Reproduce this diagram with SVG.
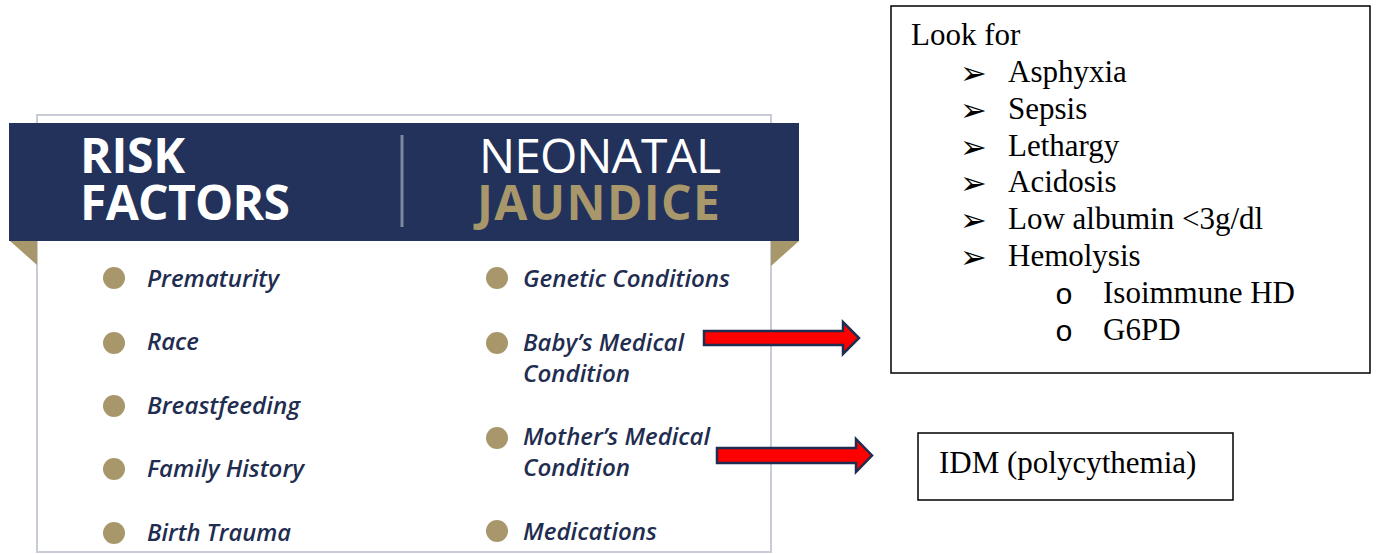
<svg xmlns="http://www.w3.org/2000/svg" width="1377" height="554" viewBox="0 0 1377 554">
<style>
.hd{font-family:"Open Sans","Liberation Sans",sans-serif;font-size:48px;fill:#ffffff}
.b{font-weight:700}
.gold{fill:#a8976b}
.it{font-family:"Open Sans","Liberation Sans",sans-serif;font-size:23px;font-style:italic;font-weight:600;fill:#1f2d50}
.dot{fill:#a8976b}
.tm{font-family:"Liberation Serif","Times New Roman",serif;font-size:31px;fill:#000}
.bul{font-family:"DejaVu Sans",sans-serif;font-size:32px;fill:#000}
.sub{font-family:"Liberation Mono","Courier New",monospace;font-size:30px;fill:#000}
.box{fill:#fff;stroke:#000;stroke-width:1.5}
.arr{fill:#ff0000;stroke:#1f2d50;stroke-width:2.5;stroke-linejoin:miter}
</style>
<rect width="1377" height="554" fill="#ffffff"/>

<g id="infographic">
  <rect x="37" y="115" width="734" height="437" fill="#ffffff" stroke="#c8ccd6" stroke-width="2"/>
  <polygon points="10,241 37,241 37,265" fill="#a8976b"/>
  <polygon points="771,241 799,241 771,266" fill="#a8976b"/>
  <rect x="9" y="123" width="790" height="118" fill="#22325a"/>
  <line x1="402" y1="135" x2="402" y2="227" stroke="#7d879f" stroke-width="3"/>
  <text class="hd b" x="80" y="173" textLength="105">RISK</text>
  <text class="hd b" x="80" y="220" textLength="210">FACTORS</text>
  <text class="hd" x="479" y="173" textLength="242">NEONATAL</text>
  <text class="hd b gold" x="477" y="220" textLength="243">JAUNDICE</text>
</g>

<g id="left-list">
  <circle class="dot" cx="114" cy="278" r="11"/>
  <text class="it" x="147" y="287" textLength="132" lengthAdjust="spacingAndGlyphs">Prematurity</text>
  <circle class="dot" cx="114" cy="343" r="11"/>
  <text class="it" x="147" y="350" textLength="52" lengthAdjust="spacingAndGlyphs">Race</text>
  <circle class="dot" cx="114" cy="406" r="11"/>
  <text class="it" x="147" y="414" textLength="153" lengthAdjust="spacingAndGlyphs">Breastfeeding</text>
  <circle class="dot" cx="114" cy="469" r="11"/>
  <text class="it" x="147" y="477" textLength="157" lengthAdjust="spacingAndGlyphs">Family History</text>
  <circle class="dot" cx="114" cy="533" r="11"/>
  <text class="it" x="147" y="541" textLength="144" lengthAdjust="spacingAndGlyphs">Birth Trauma</text>
</g>

<g id="right-list">
  <circle class="dot" cx="497" cy="278" r="11"/>
  <text class="it" x="523" y="287" textLength="207" lengthAdjust="spacingAndGlyphs">Genetic Conditions</text>
  <circle class="dot" cx="497" cy="343" r="11"/>
  <text class="it" x="523" y="351" textLength="161" lengthAdjust="spacingAndGlyphs">Baby’s Medical</text>
  <text class="it" x="523" y="382" textLength="107" lengthAdjust="spacingAndGlyphs">Condition</text>
  <circle class="dot" cx="497" cy="438" r="11"/>
  <text class="it" x="523" y="445" textLength="187" lengthAdjust="spacingAndGlyphs">Mother’s Medical</text>
  <text class="it" x="523" y="476" textLength="107" lengthAdjust="spacingAndGlyphs">Condition</text>
  <circle class="dot" cx="497" cy="531" r="11"/>
  <text class="it" x="523" y="540" textLength="134" lengthAdjust="spacingAndGlyphs">Medications</text>
</g>

<g id="connectors">
  <polygon class="arr" points="704,331 843,331 843,322 859,338 843,354 843,345 704,345"/>
  <polygon class="arr" points="717,448 856,448 856,439 872,455.5 856,472 856,463 717,463"/>
</g>

<g id="look-for-box">
  <rect class="box" x="891" y="6" width="479" height="367"/>
  <text class="tm" x="911" y="45">Look for</text>
  <text class="bul" x="960" y="84">➢</text>
  <text class="tm" x="1008" y="82">Asphyxia</text>
  <text class="bul" x="960" y="121">➢</text>
  <text class="tm" x="1008" y="119">Sepsis</text>
  <text class="bul" x="960" y="158">➢</text>
  <text class="tm" x="1008" y="156">Lethargy</text>
  <text class="bul" x="960" y="194">➢</text>
  <text class="tm" x="1008" y="192">Acidosis</text>
  <text class="bul" x="960" y="231">➢</text>
  <text class="tm" x="1008" y="229">Low albumin &lt;3g/dl</text>
  <text class="bul" x="960" y="268">➢</text>
  <text class="tm" x="1008" y="266">Hemolysis</text>
  <text class="sub" x="1055" y="304">o</text>
  <text class="tm" x="1103" y="303">Isoimmune HD</text>
  <text class="sub" x="1055" y="341">o</text>
  <text class="tm" x="1103" y="340">G6PD</text>
</g>

<g id="idm-box">
  <rect class="box" x="918" y="433" width="315" height="67"/>
  <text class="tm" x="939" y="473">IDM (polycythemia)</text>
</g>
</svg>
